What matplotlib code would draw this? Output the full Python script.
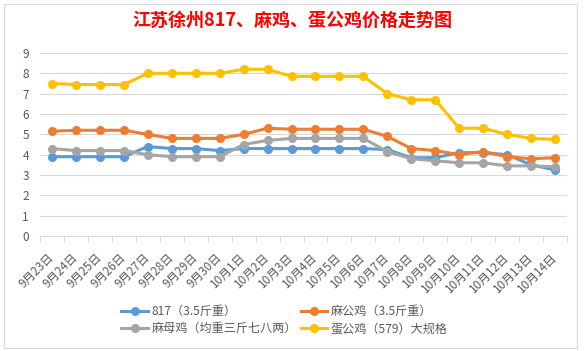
import matplotlib.pyplot as plt
from matplotlib.patches import Rectangle

plt.rcParams['font.family'] = ['Noto Sans CJK SC', 'DejaVu Sans']

dates = ['9月23日', '9月24日', '9月25日', '9月26日', '9月27日', '9月28日', '9月29日', '9月30日',
         '10月1日', '10月2日', '10月3日', '10月4日', '10月5日', '10月6日', '10月7日', '10月8日',
         '10月9日', '10月10日', '10月11日', '10月12日', '10月13日', '10月14日']

price_817 = [3.9, 3.9, 3.9, 3.9, 4.4, 4.3, 4.3, 4.2, 4.3, 4.3, 4.3,
             4.3, 4.3, 4.3, 4.25, 3.85, 3.85, 4.1, 4.1, 4.0, 3.5, 3.25]
price_ma_gong = [5.15, 5.2, 5.2, 5.2, 5.0, 4.8, 4.8, 4.8, 5.0, 5.3, 5.25,
                 5.25, 5.25, 5.25, 4.9, 4.3, 4.2, 4.0, 4.15, 3.9, 3.8, 3.85]
price_ma_mu = [4.3, 4.2, 4.2, 4.2, 4.0, 3.9, 3.9, 3.9, 4.5, 4.7, 4.8,
               4.8, 4.8, 4.8, 4.15, 3.8, 3.7, 3.6, 3.6, 3.45, 3.45, 3.4]
price_dan_gong = [7.5, 7.45, 7.45, 7.45, 8.0, 8.0, 8.0, 8.0, 8.2, 8.2, 7.85,
                  7.85, 7.85, 7.85, 7.0, 6.7, 6.7, 5.3, 5.3, 5.0, 4.8, 4.75]

series = [
    ('817（3.5斤重）', price_817, '#5B9BD5'),
    ('麻公鸡（3.5斤重）', price_ma_gong, '#ED7D31'),
    ('麻母鸡（均重三斤七八两）', price_ma_mu, '#A5A5A5'),
    ('蛋公鸡（579）大规格', price_dan_gong, '#FFC000'),
]

fig = plt.figure(figsize=(5.84, 3.51), dpi=100)
# chart area border
fig.patches.append(Rectangle((4 / 584, 3 / 351), 573 / 584, 344 / 351, transform=fig.transFigure,
                             fill=False, edgecolor='#D9D9D9', linewidth=0.8))

ax = fig.add_axes([40 / 584, 1 - 236 / 351, 527 / 584, 183 / 351])
x = list(range(len(dates)))
lines = []
for label, vals, color in series:
    ln, = ax.plot(x, vals, color=color, linewidth=2.2, marker='o', markersize=5.5, label=label)
    lines.append(ln)

ax.set_ylim(0, 9)
ax.set_xlim(-0.5, len(dates) - 0.5)
ax.set_yticks(range(10))
ax.grid(axis='y', color='#D9D9D9', linewidth=0.8)
ax.set_axisbelow(True)
for side in ['top', 'right', 'left']:
    ax.spines[side].set_visible(False)
ax.spines['bottom'].set_color('#D9D9D9')
ax.tick_params(axis='y', length=0, labelsize=8.5, labelcolor='#595959', pad=8)

ax.set_xticks(x)
ax.set_xticklabels(dates, rotation=45, ha='right', va='center', rotation_mode='anchor')
ax.tick_params(axis='x', length=0, labelsize=8.5, labelcolor='#595959', pad=14)
ax.set_xticks([i - 0.5 for i in range(len(dates) + 1)], minor=True)
ax.tick_params(axis='x', which='minor', length=4, color='#D9D9D9', width=0.8)

fig.text(0.5, 1 - 20 / 351, '江苏徐州817、麻鸡、蛋公鸡价格走势图', ha='center', va='center',
         fontsize=13, fontweight='bold', color='#FF0000')

# row-major order like the original: legend fills columns first
order = [0, 2, 1, 3]
fig.legend([lines[i] for i in order], [series[i][0] for i in order],
           loc='center left', bbox_to_anchor=(113 / 584, 1 - 320 / 351), ncol=2, frameon=False,
           fontsize=8.7, labelcolor='#595959', handlelength=2.2, columnspacing=0.3,
           handletextpad=0.3, labelspacing=0.35, borderpad=0.2)

fig.savefig('out.png', dpi=100)
